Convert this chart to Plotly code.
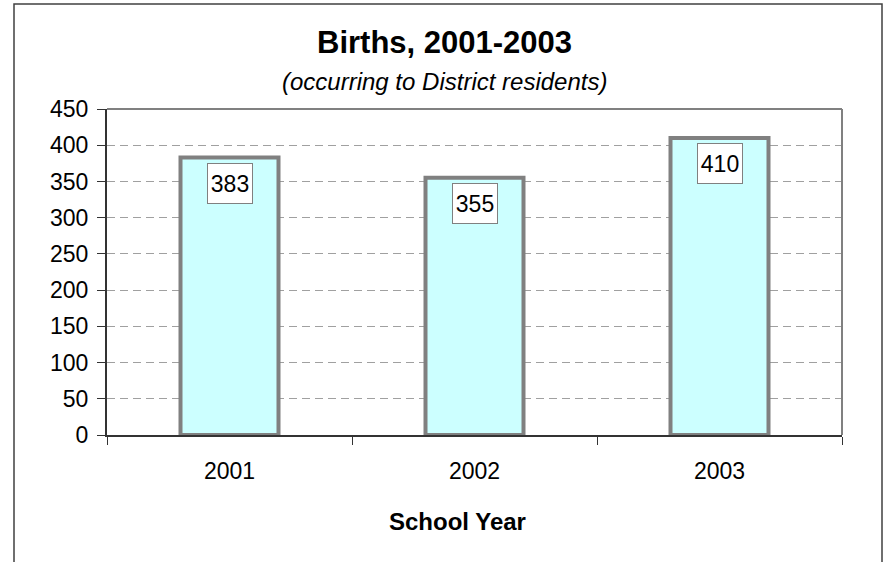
import plotly.graph_objects as go

# Births by school year
years = ["2001", "2002", "2003"]
births = [383, 355, 410]
y_ticks = [0, 50, 100, 150, 200, 250, 300, 350, 400, 450]

FONT = "Liberation Sans, Arial, sans-serif"
GRAY = "#808080"
DARK = "#333333"

# plot area in pixels: left 107, right 842, top 109, bottom 435
PW, PH = 735, 326


def py(pixel_y):
    """Paper y coordinate for a pixel row measured from the top of the page."""
    return (435 - pixel_y) / PH


def px(pixel_x):
    """Paper x coordinate for a pixel column measured from the left of the page."""
    return (pixel_x - 107) / PW


fig = go.Figure()

fig.add_trace(go.Bar(
    x=years,
    y=births,
    width=0.40,
    marker=dict(color="#CCFFFF", line=dict(color=GRAY, width=4)),
    hoverinfo="x+y",
    showlegend=False,
))

annotations = []
# Value labels in white boxes just inside the top of each bar
for i, v in enumerate(births):
    annotations.append(dict(
        x=i, y=v, xref="x", yref="y",
        text=str(v), showarrow=False,
        yanchor="top", yshift=-5,
        width=42, height=37,
        bgcolor="white", bordercolor=GRAY, borderwidth=1, borderpad=1,
        font=dict(family=FONT, size=23, color="black"),
    ))

annotations += [
    dict(text="<b>Births, 2001-2003</b>", xref="paper", yref="paper",
         x=px(444), y=py(42), xanchor="center", yanchor="middle",
         showarrow=False, font=dict(size=31, family=FONT)),
    dict(text="<i>(occurring to District residents)</i>", xref="paper", yref="paper",
         x=px(444), y=py(81), xanchor="center", yanchor="middle",
         showarrow=False, font=dict(size=24, family=FONT)),
    dict(text="<b>School Year</b>", xref="paper", yref="paper",
         x=px(457), y=py(521), xanchor="center", yanchor="middle",
         showarrow=False, font=dict(size=24, family=FONT)),
]

fig.update_layout(
    width=888, height=562,
    margin=dict(l=107, r=46, t=109, b=127),
    paper_bgcolor="white",
    plot_bgcolor="white",
    font=dict(family=FONT, color="black"),
    xaxis=dict(
        type="category",
        range=[-0.5, 2.5],
        showline=True, linecolor=DARK, linewidth=2,
        ticks="outside", ticklen=8, tickcolor=DARK, tickwidth=1,
        tickson="boundaries",
        showgrid=False,
        tickfont=dict(size=23, family=FONT),
        tickangle=0,
        ticklabelstandoff=14,
    ),
    yaxis=dict(
        range=[0, 450],
        tickvals=y_ticks,
        showline=True, linecolor=DARK, linewidth=2,
        ticks="outside", ticklen=8, tickcolor=DARK, tickwidth=1,
        showgrid=True, gridcolor="#a0a0a0", gridwidth=1, griddash="8px,5px",
        zeroline=False,
        tickfont=dict(size=23, family=FONT),
        ticklabelstandoff=4,
    ),
    annotations=annotations,
    shapes=[
        # plot area top and right edges
        dict(type="line", xref="paper", yref="paper", x0=0, x1=1, y0=1, y1=1,
             line=dict(color=GRAY, width=2)),
        dict(type="line", xref="paper", yref="paper", x0=1, x1=1, y0=0, y1=1,
             line=dict(color=GRAY, width=2)),
        # outer chart frame
        dict(type="rect", xref="paper", yref="paper",
             x0=px(14), x1=px(882), y0=py(600), y1=py(4),
             line=dict(color="#404040", width=1.5), layer="below"),
    ],
)

fig.write_html("out.html")
